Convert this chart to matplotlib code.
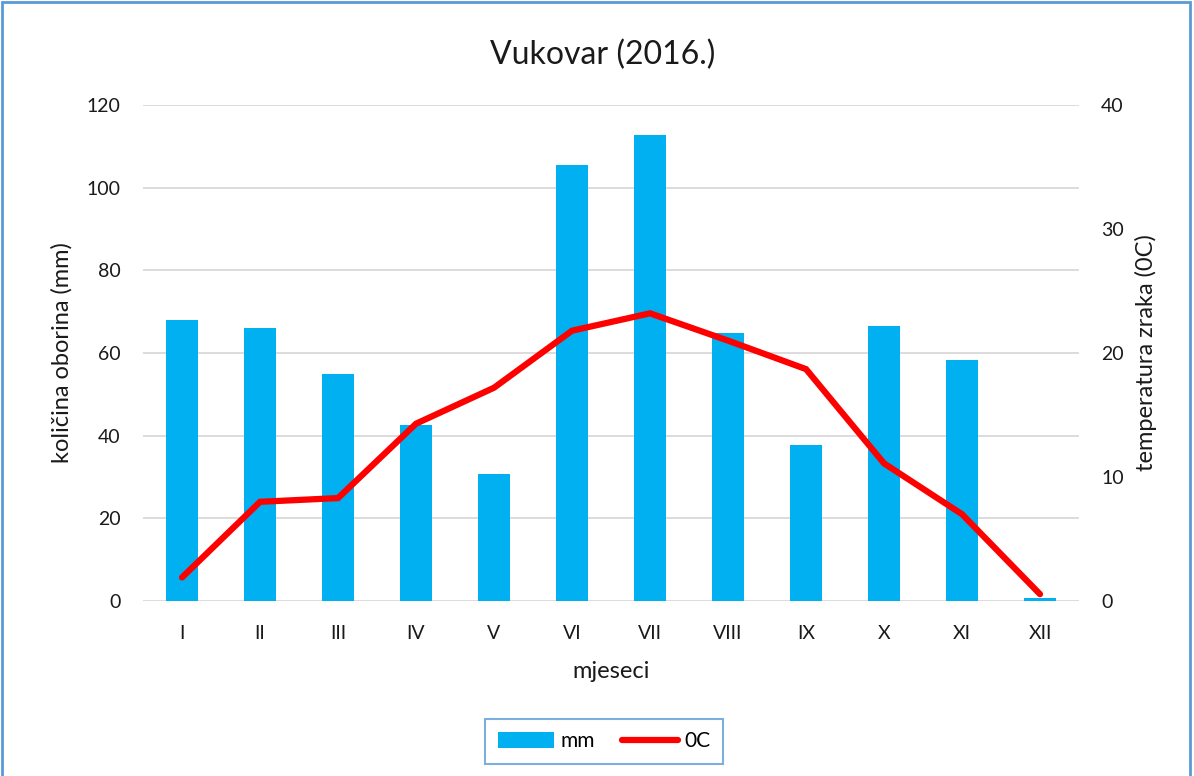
import numpy as np
import matplotlib.pyplot as plt
from matplotlib.patches import Rectangle

# ---------------------------------------------------------------------
# Data
# ---------------------------------------------------------------------
months = ['I', 'II', 'III', 'IV', 'V', 'VI', 'VII', 'VIII', 'IX', 'X', 'XI', 'XII']
precip_mm = [68.0, 66.0, 55.0, 42.5, 30.8, 105.5, 112.8, 64.9, 37.7, 66.5, 58.2, 0.8]
temp_c = [1.9, 8.0, 8.3, 14.3, 17.2, 21.8, 23.2, 21.0, 18.7, 11.1, 7.0, 0.55]

plt.rcParams['font.family'] = ['Lato', 'DejaVu Sans']

bar_color = '#00B0F0'
line_color = '#FF0000'
grid_color = '#D9D9D9'
text_color = '#1a1a1a'

# ---------------------------------------------------------------------
# Plot
# ---------------------------------------------------------------------
fig = plt.figure(figsize=(11.94, 7.76), dpi=100)
ax = fig.add_axes([0.1198, 0.2255, 0.7839, 0.6392])
ax2 = ax.twinx()

x = np.arange(len(months))
ax.bar(x, precip_mm, width=0.40, color=bar_color, label='mm', zorder=2)
ax2.plot(x, temp_c, color=line_color, lw=4.5, solid_capstyle='round',
         solid_joinstyle='miter', label='0C', zorder=3)

ax.set_xlim(-0.5, len(months) - 0.5)
ax.set_ylim(0, 120)
ax.set_yticks(np.arange(0, 121, 20))
ax2.set_ylim(0, 40)
ax2.set_yticks(np.arange(0, 41, 10))

ax.set_xticks(x)
ax.set_xticklabels(months)

ax.grid(axis='y', color=grid_color, lw=1.3, zorder=0)
ax.set_axisbelow(True)

for a in (ax, ax2):
    for s in a.spines.values():
        s.set_visible(False)
    a.tick_params(length=0, labelsize=14, colors=text_color)
ax.tick_params(axis='y', pad=16)
ax.tick_params(axis='x', pad=17)
ax2.tick_params(axis='y', pad=16)

ax.set_xlabel('mjeseci', fontsize=17, color=text_color, labelpad=14)
ax.set_ylabel('količina oborina (mm)', fontsize=17, color=text_color, labelpad=10)
ax2.set_ylabel('temperatura zraka (0C)', fontsize=17, color=text_color, labelpad=8)

fig.text(0.5047, 0.929, 'Vukovar (2016.)', ha='center', va='center',
         fontsize=23, color=text_color)

# legend
h1, l1 = ax.get_legend_handles_labels()
h2, l2 = ax2.get_legend_handles_labels()
leg = fig.legend(h1 + h2, l1 + l2, loc='center', bbox_to_anchor=(0.5058, 0.0445),
                 ncol=2, fontsize=15, frameon=True, fancybox=False,
                 handlelength=2.7, handleheight=0.8, columnspacing=1.3,
                 borderpad=0.6, handletextpad=0.3)
leg.get_frame().set_edgecolor('#5B9BD5')
leg.get_frame().set_linewidth(1.5)

# outer border
fig.patches.append(Rectangle((0.0015, -0.01), 0.995, 1.0075, transform=fig.transFigure,
                             fill=False, edgecolor='#5B9BD5', lw=2))

fig.savefig('out.png', dpi=100)
